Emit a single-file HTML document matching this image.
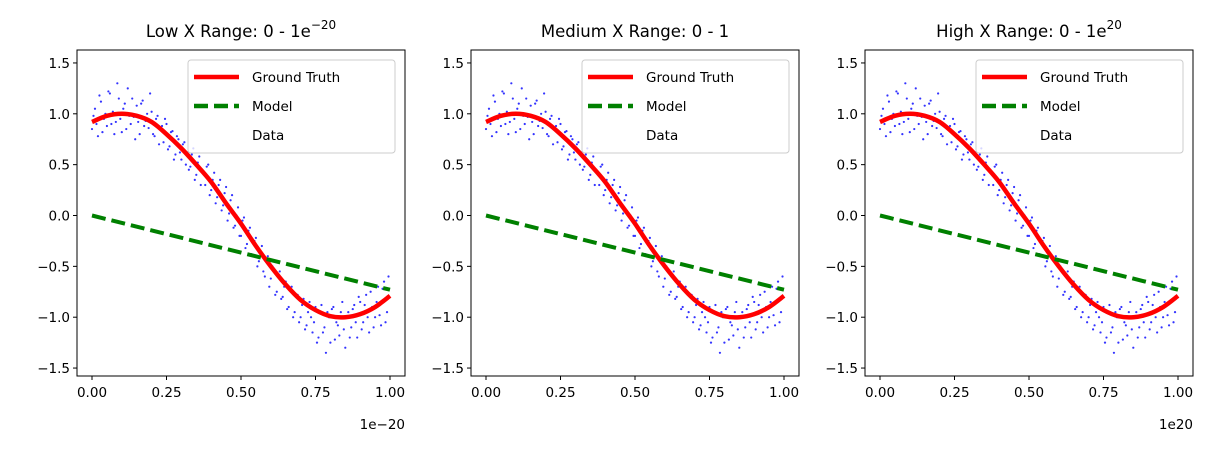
<!DOCTYPE html>
<html><head><meta charset="utf-8"><style>
html,body{margin:0;padding:0;background:#fff;}
svg{display:block;font-family:"DejaVu Sans","Liberation Sans",sans-serif;}
</style></head><body>
<svg id="chart" width="1214" height="449" viewBox="0 0 1214 449"></svg>
<script>
const panelTitles=["Low X Range: 0 - 1e","Medium X Range: 0 - 1","High X Range: 0 - 1e"];
const titleSup=["\u221220","","20"];
const offsetLabels=["1e\u221220","","1e20"];
const xTicks=[0,0.25,0.5,0.75,1];
const xTickLabels=["0.00","0.25","0.50","0.75","1.00"];
const yTicks=[1.5,1.0,0.5,0.0,-0.5,-1.0,-1.5];
const yTickLabels=["1.5","1.0","0.5","0.0","\u22120.5","\u22121.0","\u22121.5"];
const truthX=[0,0.05,0.1,0.15,0.2,0.25,0.3,0.35,0.4,0.45,0.5,0.55,0.6,0.65,0.7,0.75,0.8,0.85,0.9,0.95,1.0];
const truthY=[0.92,0.98,1.0,0.98,0.92,0.8,0.66,0.5,0.33,0.12,-0.08,-0.3,-0.5,-0.68,-0.83,-0.93,-0.99,-1.0,-0.97,-0.9,-0.79];
const modelX=[0,1];
const modelY=[0,-0.73];
const dataY1=[0.85,1.05,0.78,1.12,0.95,0.88,1.2,1.02,0.92,1.15,0.82,1.1,1.25,0.9,0.97,1.08,0.8,1.13,0.93,0.86,1.02,0.78,0.98,0.85,0.72,0.9,0.68,0.83,0.6,0.75,0.55,0.72,0.62,0.48,0.66,0.4,0.58,0.45,0.3,0.5,0.25,0.42,0.18,0.35,0.1,0.28,0.02,0.2,-0.1,0.08,-0.2,-0.02,-0.28,-0.12,-0.4,-0.22,-0.45,-0.3,-0.6,-0.4,-0.62,-0.45,-0.75,-0.55,-0.8,-0.65,-0.9,-0.7,-0.95,-0.78,-1.0,-0.82,-1.08,-0.85,-1.15,-0.9,-1.2,-0.88,-1.1,-0.95,-1.25,-0.9,-1.05,-1.18,-0.85,-1.3,-0.95,-1.1,-0.88,-1.2,-0.85,-1.05,-0.78,-1.15,-0.9,-1.0,-0.7,-1.08,-0.65,-0.95];
const dataY2=[0.98,0.9,1.18,0.82,1.0,1.22,0.9,0.8,1.3,0.95,1.05,0.85,0.98,1.15,0.75,0.92,1.1,0.88,1.0,1.2,0.8,0.95,0.7,0.88,0.95,0.65,0.82,0.55,0.78,0.62,0.7,0.5,0.45,0.6,0.35,0.52,0.3,0.42,0.48,0.2,0.35,0.12,0.3,0.05,0.22,-0.05,0.15,-0.12,0.0,-0.2,-0.05,-0.32,-0.15,-0.38,-0.25,-0.5,-0.35,-0.55,-0.42,-0.7,-0.5,-0.78,-0.6,-0.82,-0.7,-0.92,-0.72,-1.0,-0.8,-1.05,-0.88,-1.12,-0.95,-1.0,-1.05,-1.25,-0.95,-1.15,-1.35,-1.0,-0.92,-1.22,-1.08,-0.95,-1.12,-1.0,-1.2,-0.92,-1.05,-0.8,-1.12,-0.88,-1.0,-0.75,-1.1,-0.85,-0.98,-0.72,-1.05,-0.6];

const NS="http://www.w3.org/2000/svg";
const svg=document.getElementById("chart");
function mk(tag,attrs,parent){const e=document.createElementNS(NS,tag);for(const k in attrs)e.setAttribute(k,attrs[k]);(parent||svg).appendChild(e);return e;}
function smooth(px,py){
  let d="M"+px[0]+","+py[0];
  for(let i=0;i<px.length-1;i++){
    const x0=px[Math.max(i-1,0)],y0=py[Math.max(i-1,0)],x1=px[i],y1=py[i],x2=px[i+1],y2=py[i+1],x3=px[Math.min(i+2,px.length-1)],y3=py[Math.min(i+2,px.length-1)];
    d+="C"+(x1+(x2-x0)/6)+","+(y1+(y2-y0)/6)+" "+(x2-(x3-x1)/6)+","+(y2-(y3-y1)/6)+" "+x2+","+y2;
  }
  return d;
}

for(let p=0;p<3;p++){
  const off=p*394;
  const L=77+off,R=405+off,T=50,B=376;
  const sx=v=>92+off+v*298;
  const sy=v=>215.5-v*101.7;
  const g=mk("g",{});
  
  
  const clipId="clip"+p;
  const cp=mk("clipPath",{id:clipId},g);
  mk("rect",{x:L,y:T,width:R-L,height:B-T},cp);
  const pts=mk("g",{"clip-path":"url(#"+clipId+")"},g);
  
  
  [dataY1,dataY2].forEach((arr,k)=>{
    arr.forEach((v,i)=>{
      const c=mk("circle",{cx:sx(i/100+k*0.005),cy:sy(v),r:1.1,fill:"#3333ff"},pts);
      
      
    });
  });
  const tr=mk("path",{d:smooth(truthX.map(sx),truthY.map(sy)),fill:"none",stroke:"#ff0000","stroke-width":4.5,"stroke-linejoin":"round"},g);
  
  
  const md=mk("line",{x1:sx(modelX[0]),y1:sy(modelY[0]),x2:sx(modelX[1]),y2:sy(modelY[1]),stroke:"#008000","stroke-width":4,"stroke-dasharray":"14,6"},g);
  
  
  const fr=mk("rect",{x:L,y:T,width:R-L,height:B-T,fill:"none",stroke:"#000","stroke-width":1},g);
  
  
  xTicks.forEach((v,i)=>{
    mk("line",{x1:sx(v),y1:B,x2:sx(v),y2:B+4,stroke:"#000"},g);
    const t=mk("text",{x:sx(v),y:B+21,"text-anchor":"middle","font-size":13.5,fill:"#000"},g);
    t.textContent=xTickLabels[i];
    
    
  });
  yTicks.forEach((v,i)=>{
    mk("line",{x1:L-4,y1:sy(v),x2:L,y2:sy(v),stroke:"#000"},g);
    const t=mk("text",{x:L-7,y:sy(v)+5,"text-anchor":"end","font-size":13.5,fill:"#000"},g);
    t.textContent=yTickLabels[i];
    
    
  });
  if(offsetLabels[p]){
    const o=mk("text",{x:R,y:429,"text-anchor":"end","font-size":13.5,fill:"#000"},g);
    o.textContent=offsetLabels[p];
    
    
  }
  const ti=mk("text",{x:(L+R)/2,y:37,"text-anchor":"middle","font-size":16.5,fill:"#000"},g);
  
  
  ti.appendChild(document.createTextNode(panelTitles[p]));
  if(titleSup[p]){const s=mk("tspan",{dy:-8,"font-size":12},ti);s.textContent=titleSup[p];}
  const lg=mk("g",{},g);
  
  
  mk("rect",{x:188+off,y:60,width:207,height:93,rx:3,fill:"rgba(255,255,255,0.8)",stroke:"#ccc"},lg);
  const ents=[["Ground Truth","#ff0000",""],["Model","#008000","14,6"],["Data",null,""]];
  ents.forEach((e,i)=>{
    const y=77+i*29;
    if(e[1]) mk("line",{x1:194+off,y1:y,x2:239+off,y2:y,stroke:e[1],"stroke-width":4.5,"stroke-dasharray":e[2]||"none"},lg);
    const t=mk("text",{x:252+off,y:y+5,"font-size":13.5,fill:"#000"},lg);
    t.textContent=e[0];
    
    
  });
}
</script>
</body></html>
